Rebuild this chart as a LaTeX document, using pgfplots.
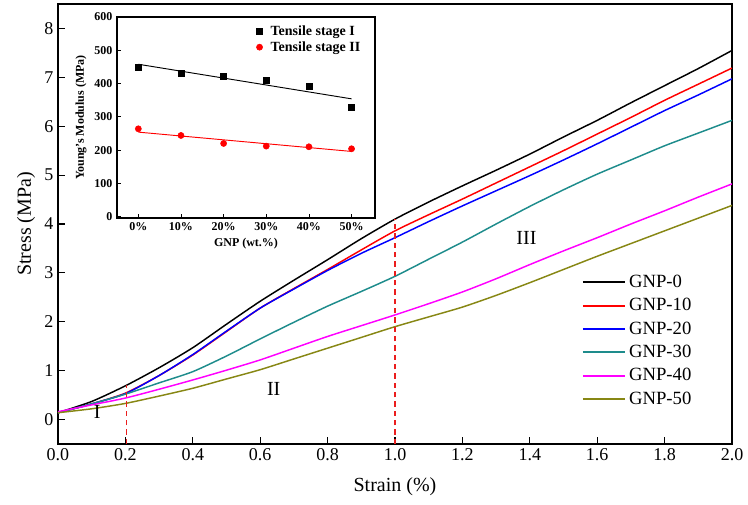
\documentclass[border=0pt]{standalone}
\usepackage{pgfplots}
\pgfplotsset{compat=1.18}
\usepackage{fontspec}
\setmainfont{Liberation Serif}
\definecolor{cteal}{RGB}{30,140,140}
\definecolor{colive}{RGB}{135,135,20}
\definecolor{cmag}{RGB}{255,0,255}
\definecolor{cdash}{RGB}{235,30,30}
\begin{document}
\begin{tikzpicture}[x=1pt,y=1pt]
\begin{axis}[
  name=main,
  at={(0,0)}, anchor=south west,
  scale only axis,
  width=505.5pt, height=330pt,
  xmin=0, xmax=2, ymin=-0.5, ymax=8.5,
  xtick={0,0.2,...,2.0}, ytick={0,1,...,8},
  tick pos=left, tick align=inside,
  major tick length=5pt,
  xticklabel style={/pgf/number format/.cd, fixed, fixed zerofill, precision=1},
  /pgf/number format/assume math mode=true,
  ticklabel style={font=\fontsize{13.5}{15}\selectfont},
  xlabel={Strain (\%)}, ylabel={Stress (MPa)},
  label style={font=\fontsize{15}{17}\selectfont},
  xlabel style={yshift=-6pt},
  ylabel style={yshift=0pt},
  axis line style={line width=0.9pt},
  every tick/.style={line width=0.8pt, black},
  legend style={at={(0.95,0.397)}, anchor=north east, draw=none, fill=none,
    font=\fontsize{14}{16}\selectfont, row sep=2.75pt},
  legend cell align=left,
  legend image code/.code={\draw[#1, line width=1.5pt] (0pt,0pt) -- (32pt,0pt);},
  every axis plot/.append style={line width=1.1pt, smooth, tension=0.4},
]
\addplot[black] coordinates {(0,0.14) (0.1,0.37) (0.2,0.69) (0.3,1.06) (0.4,1.47) (0.5,1.95) (0.6,2.42) (0.7,2.85) (0.8,3.27) (0.9,3.70) (1.0,4.10) (1.1,4.45) (1.2,4.78) (1.3,5.10) (1.4,5.43) (1.5,5.78) (1.6,6.12) (1.7,6.48) (1.8,6.83) (1.9,7.18) (2.0,7.55)};
\addlegendentry{GNP-0}
\addplot[red] coordinates {(0,0.14) (0.1,0.32) (0.2,0.54) (0.3,0.90) (0.4,1.32) (0.5,1.80) (0.6,2.28) (0.7,2.68) (0.8,3.07) (0.9,3.47) (1.0,3.86) (1.1,4.19) (1.2,4.51) (1.3,4.84) (1.4,5.17) (1.5,5.50) (1.6,5.84) (1.7,6.18) (1.8,6.53) (1.9,6.86) (2.0,7.19)};
\addlegendentry{GNP-10}
\addplot[blue] coordinates {(0,0.14) (0.1,0.32) (0.2,0.53) (0.3,0.90) (0.4,1.33) (0.5,1.81) (0.6,2.28) (0.7,2.67) (0.8,3.05) (0.9,3.40) (1.0,3.72) (1.1,4.05) (1.2,4.37) (1.3,4.68) (1.4,4.99) (1.5,5.31) (1.6,5.64) (1.7,5.98) (1.8,6.32) (1.9,6.64) (2.0,6.97)};
\addlegendentry{GNP-20}
\addplot[cteal] coordinates {(0,0.14) (0.1,0.32) (0.2,0.52) (0.3,0.75) (0.4,0.98) (0.5,1.30) (0.6,1.65) (0.7,1.99) (0.8,2.32) (0.9,2.62) (1.0,2.93) (1.1,3.28) (1.2,3.63) (1.3,4.00) (1.4,4.36) (1.5,4.70) (1.6,5.02) (1.7,5.31) (1.8,5.60) (1.9,5.86) (2.0,6.12)};
\addlegendentry{GNP-30}
\addplot[cmag] coordinates {(0,0.16) (0.1,0.30) (0.2,0.44) (0.3,0.62) (0.4,0.81) (0.5,1.01) (0.6,1.22) (0.7,1.46) (0.8,1.70) (0.9,1.92) (1.0,2.14) (1.1,2.37) (1.2,2.61) (1.3,2.88) (1.4,3.17) (1.5,3.45) (1.6,3.72) (1.7,4.00) (1.8,4.27) (1.9,4.55) (2.0,4.82)};
\addlegendentry{GNP-40}
\addplot[colive] coordinates {(0,0.14) (0.1,0.22) (0.2,0.33) (0.3,0.48) (0.4,0.64) (0.5,0.83) (0.6,1.02) (0.7,1.24) (0.8,1.46) (0.9,1.68) (1.0,1.90) (1.1,2.10) (1.2,2.30) (1.3,2.54) (1.4,2.80) (1.5,3.07) (1.6,3.34) (1.7,3.60) (1.8,3.86) (1.9,4.12) (2.0,4.38)};
\addlegendentry{GNP-50}
\addplot[draw=cdash, no marks, line width=1.2pt, dash pattern=on 4pt off 3pt, forget plot, sharp plot] coordinates {(0.203,-0.5) (0.203,0.7)};
\addplot[draw=cdash, no marks, line width=1.2pt, dash pattern=on 4pt off 3pt, forget plot, sharp plot] coordinates {(1.0,-0.5) (1.0,4.1)};
\node[font=\fontsize{15}{17}\selectfont] at (axis cs:0.116,0.15) {I};
\node[font=\fontsize{15}{17}\selectfont] at (axis cs:0.64,0.63) {II};
\node[font=\fontsize{15}{17}\selectfont] at (axis cs:1.39,3.72) {III};
\end{axis}
\begin{axis}[
  at={(44.25pt,169.5pt)}, anchor=south west,
  scale only axis,
  width=193.5pt, height=150.75pt,
  xmin=-0.5, xmax=5.55, ymin=-4, ymax=600,
  xtick={0,1,2,3,4,5}, xticklabels={0\%,10\%,20\%,30\%,40\%,50\%},
  ytick={0,100,...,600},
  tick pos=left, tick align=inside,
  major tick length=3pt,
  /pgf/number format/assume math mode=true,
  ticklabel style={font=\fontsize{9}{10}\selectfont\bfseries},
  xlabel={GNP (wt.\%)}, ylabel={Young's Modulus (MPa)},
  label style={font=\fontsize{9}{10}\selectfont\bfseries},
  xlabel style={yshift=1pt},
  ylabel style={yshift=-1pt},
  axis line style={line width=0.8pt},
  every tick/.style={line width=0.6pt, black},
  legend style={at={(0.97,0.985)}, anchor=north east, draw=none, fill=none,
    font=\fontsize{10.5}{12}\selectfont\bfseries, row sep=-1pt,
    /tikz/every odd column/.append style={column sep=4pt}},
  legend cell align=left,
]
\addplot[only marks, mark=square*, mark size=2.2pt, black] coordinates {(0,448) (1,432) (2,421) (3,411) (4,391) (5,328)};
\addlegendentry{Tensile stage I}
\addplot[only marks, mark=*, mark size=2.3pt, red] coordinates {(0,264) (1,244) (2,220) (3,212) (4,210) (5,204)};
\addlegendentry{Tensile stage II}
\addplot[black, line width=0.7pt, forget plot] coordinates {(0,458) (5,354)};
\addplot[red, line width=0.7pt, forget plot] coordinates {(0,254) (5,196)};
\end{axis}
\pgfresetboundingbox
\path[use as bounding box] (-43.5pt,-45.75pt) rectangle (517.5pt,333pt);
\end{tikzpicture}
\end{document}
